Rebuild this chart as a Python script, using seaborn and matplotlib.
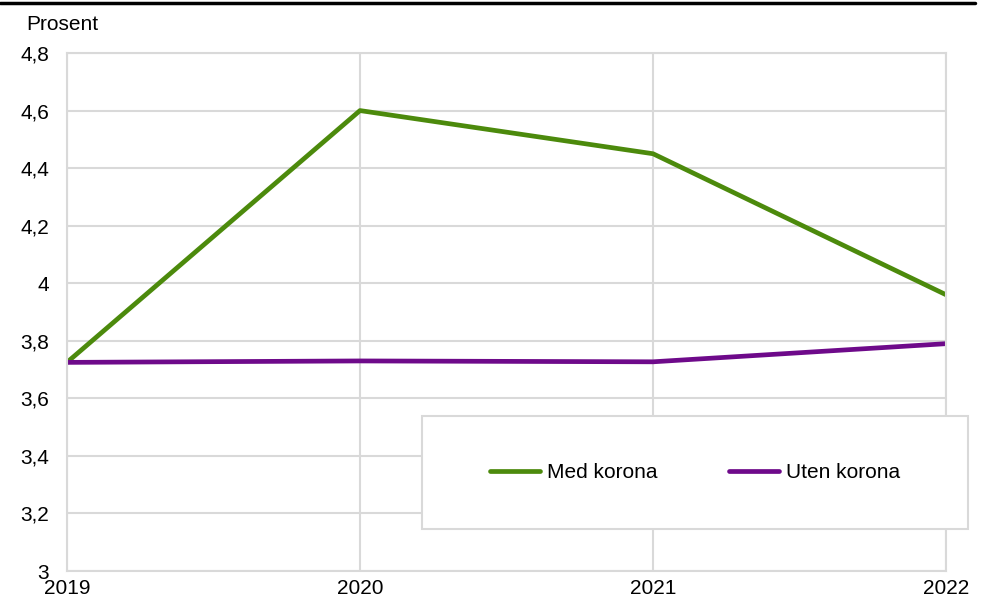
import pandas as pd
import matplotlib.pyplot as plt
import matplotlib.ticker as mticker
from matplotlib.lines import Line2D
import seaborn as sns

# === DATA ===
years = [2019, 2020, 2021, 2022]
med_korona = [3.725, 4.60, 4.45, 3.96]
uten_korona = [3.725, 3.73, 3.727, 3.79]
series_names = ["Med korona", "Uten korona"]
colors = ["#4C8A0C", "#6E0A8A"]
y_ticks = [3.0, 3.2, 3.4, 3.6, 3.8, 4.0, 4.2, 4.4, 4.6, 4.8]

df = pd.DataFrame({
    "Year": years * 2,
    "Value": med_korona + uten_korona,
    "Series": [series_names[0]] * len(years) + [series_names[1]] * len(years),
})

# === STYLE ===
sns.set_theme(style="white")
plt.rcParams["font.family"] = ["Liberation Sans", "DejaVu Sans"]
plt.rcParams["text.color"] = "black"
grid_col = "#D9D9D9"
fs = 15

fig = plt.figure(figsize=(9.95, 5.99), dpi=100)
ax = fig.add_axes([0.0673, 0.0467, 0.8835, 0.8648])

sns.lineplot(
    data=df, x="Year", y="Value", hue="Series",
    palette=colors, linewidth=3.4, ax=ax, legend=False,
)

ax.set_xlim(2019, 2022)
ax.set_ylim(3, 4.8)
ax.set_xticks(years)
ax.set_yticks(y_ticks)
ax.yaxis.set_major_formatter(mticker.FuncFormatter(lambda v, p: f"{v:g}".replace(".", ",")))
ax.xaxis.set_major_formatter(mticker.FuncFormatter(lambda v, p: f"{int(v)}"))
ax.grid(True, color=grid_col, linewidth=1.5)
ax.set_axisbelow(True)
for s in ax.spines.values():
    s.set_color(grid_col)
    s.set_linewidth(1.5)
ax.tick_params(axis="both", length=0, labelsize=fs, colors="black")
ax.tick_params(axis="y", pad=13)
ax.tick_params(axis="x", pad=6)
ax.set_xlabel("")
ax.set_ylabel("")

fig.text(26 / 995, 1 - 24 / 599, "Prosent", fontsize=fs, va="center", ha="left", color="black")

# top rule
fig.add_artist(Line2D([0.0, 0.98], [1 - 2.5 / 599, 1 - 2.5 / 599], color="black", linewidth=2.5))

handles = [Line2D([], [], color=c, linewidth=3.4, solid_capstyle="round") for c in colors]
leg = fig.legend(
    handles, series_names, loc="center", ncol=2,
    bbox_to_anchor=(422 / 995, 70 / 599, 546 / 995, 113 / 599),
    frameon=False, fontsize=fs, handlelength=2.4, handletextpad=0.35,
    columnspacing=3.4,
)
for t in leg.get_texts():
    t.set_color("black")
# legend box
fig.add_artist(plt.Rectangle((422 / 995, 70 / 599), 546 / 995, 113 / 599,
                             transform=fig.transFigure, facecolor="white",
                             edgecolor=grid_col, linewidth=1.5, zorder=2))
leg.set_zorder(3)

fig.savefig("out.png", dpi=100)
